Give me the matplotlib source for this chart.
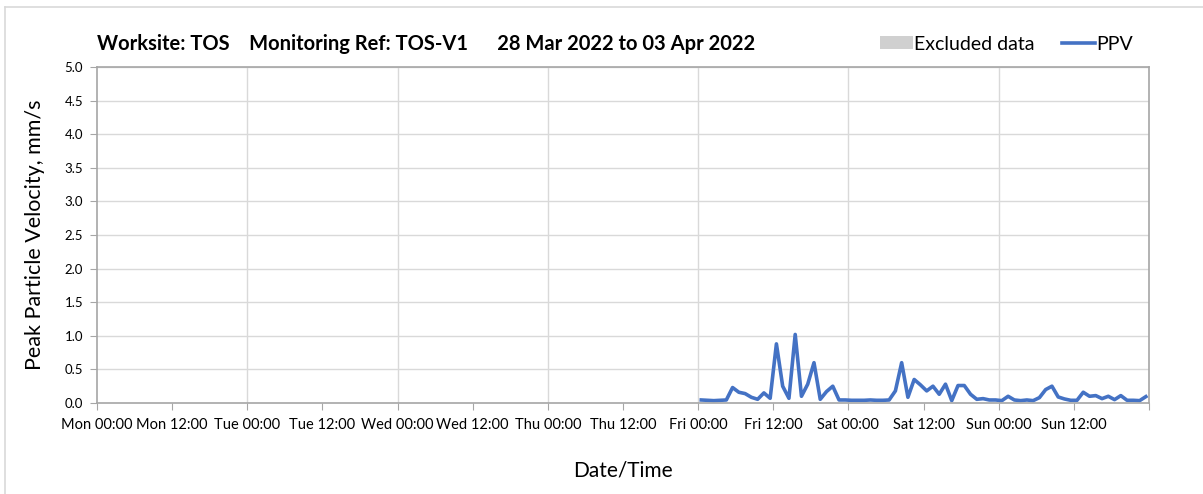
import numpy as np
import matplotlib.pyplot as plt
from matplotlib.lines import Line2D
from matplotlib.patches import Patch

plt.rcParams['font.family'] = ['Lato', 'DejaVu Sans']

# 小时数据（周一 00:00 起算，单位：小时），周五 00:30 到 周日 23:30
hours = [96.5 + i for i in range(72)]
ppv = [0.045, 0.04, 0.035, 0.04, 0.045, 0.23, 0.16, 0.14, 0.085, 0.055,
       0.15, 0.07, 0.88, 0.25, 0.07, 1.02, 0.10, 0.28, 0.60, 0.055,
       0.17, 0.25, 0.045, 0.045, 0.04, 0.04, 0.04, 0.045, 0.04, 0.04,
       0.045, 0.18, 0.60, 0.085, 0.35, 0.27, 0.18, 0.25, 0.13, 0.28,
       0.035, 0.26, 0.26, 0.13, 0.055, 0.065, 0.045, 0.045, 0.035, 0.10,
       0.045, 0.035, 0.045, 0.035, 0.08, 0.20, 0.25, 0.09, 0.06, 0.04,
       0.04, 0.16, 0.10, 0.11, 0.065, 0.10, 0.05, 0.11, 0.04, 0.04,
       0.035, 0.095]

tick_labels = ['Mon 00:00', 'Mon 12:00', 'Tue 00:00', 'Tue 12:00', 'Wed 00:00',
               'Wed 12:00', 'Thu 00:00', 'Thu 12:00', 'Fri 00:00', 'Fri 12:00',
               'Sat 00:00', 'Sat 12:00', 'Sun 00:00', 'Sun 12:00', '']
y_ticks = [0.0, 0.5, 1.0, 1.5, 2.0, 2.5, 3.0, 3.5, 4.0, 4.5, 5.0]

W, H = 1203, 494
fig = plt.figure(figsize=(W / 100, H / 100), dpi=100)
ax = fig.add_axes([97 / W, 1 - 403 / H, (1149 - 97) / W, (403 - 67) / H])

ax.plot(hours, ppv, color='#4472C4', lw=2.6, solid_joinstyle='round')

ax.set_xlim(0, 168)
ax.set_ylim(0, 5)
ax.set_xticks(np.arange(0, 169, 12))
ax.set_xticklabels(tick_labels, fontsize=10.5)
ax.set_yticks(y_ticks)
ax.set_yticklabels([f'{v:.1f}' for v in y_ticks], fontsize=9.5)

# 网格线：纵向每 24 小时，横向每 0.5
for x in range(24, 168, 24):
    ax.axvline(x, color='#d9d9d9', lw=1, zorder=0)
for y in y_ticks[1:]:
    ax.axhline(y, color='#d9d9d9', lw=1, zorder=0)

for s in ax.spines.values():
    s.set_color('#a6a6a6')
    s.set_linewidth(1.2)
ax.tick_params(axis='x', direction='out', length=5, color='#a6a6a6', pad=6)
ax.tick_params(axis='y', direction='out', length=5, color='#a6a6a6', pad=5)

ax.set_ylabel('Peak Particle Velocity, mm/s', fontsize=15.5, labelpad=14)
ax.set_xlabel('Date/Time', fontsize=15, labelpad=20)

fig.text(97 / W, 1 - 44 / H,
         'Worksite: TOS    Monitoring Ref: TOS-V1      28 Mar 2022 to 03 Apr 2022',
         fontsize=14.5, fontweight='bold', va='center', ha='left')

handles = [Patch(facecolor='#d0d0d0', edgecolor='none'),
           Line2D([0], [0], color='#4472C4', lw=2.6)]
fig.legend(handles, ['Excluded data', 'PPV'], loc='center left',
           bbox_to_anchor=(880 / W, 1 - 44 / H), ncol=2, frameon=False,
           fontsize=14, handlelength=1.7, handletextpad=0.05,
           columnspacing=1.4, borderaxespad=0, borderpad=0)

# 外框
fig.add_artist(Line2D([5 / W, 1], [1 - 7 / H, 1 - 7 / H], color='#d9d9d9', lw=1.2))
fig.add_artist(Line2D([5 / W, 5 / W], [0, 1 - 7 / H], color='#d9d9d9', lw=1.2))

fig.savefig('out.png', dpi=100, facecolor='white')
